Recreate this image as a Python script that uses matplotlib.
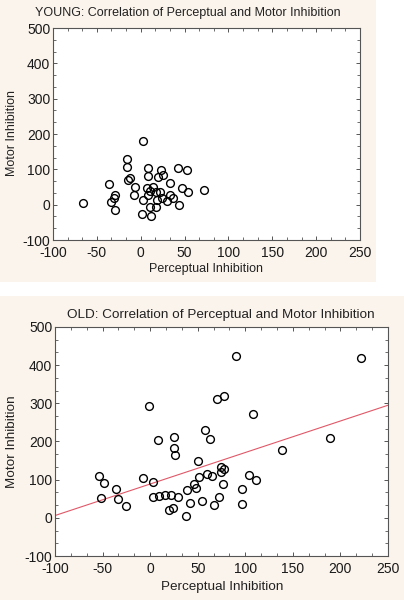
import matplotlib
matplotlib.use("Agg")
import matplotlib.pyplot as plt
from matplotlib.patches import Rectangle
from matplotlib.ticker import MultipleLocator

plt.rcParams['font.family'] = ['Liberation Sans', 'DejaVu Sans']
plt.rcParams['axes.unicode_minus'] = False

# YOUNG group
young_x = [-66, 3, -16, -16, -15, -12, -36, -6, -8, -29, -31, -34, -29,
           8, 8, 23, 25, 20, 7, 14, 17, 11, 22, 24, 19, 3, 8, 11, 17, 1, 12,
           33, 33, 37, 30, 42, 53, 47, 54, 44, 72]
young_y = [4, 179, 129, 106, 70, 75, 58, 49, 26, 28, 20, 8, -14,
           103, 82, 99, 83, 78, 46, 49, 35, 39, 36, 18, 14, 14, 26, -7, -8, -27, -33,
           60, 27, 19, 9, 105, 97, 46, 36, -2, 42]

# OLD group
old_x = [-54, -52, -48, -36, -34, -25, -8, -1, 2.5, 3, 8, 9, 15.5, 21.5, 20, 24,
         25, 24.6, 25.7, 29, 38, 39, 42, 46, 48.6, 50, 51, 55, 58, 60, 63, 65,
         67.6, 70, 78, 72.5, 74, 74.3, 77.5, 77, 90, 97, 96.5, 104, 108, 111,
         139, 189, 222]
old_y = [109, 51, 91, 76, 49, 32, 105, 294, 93, 54, 203, 58, 59, 59, 20, 27,
         211, 182, 164, 55, 3.5, 73, 38, 89, 79, 150, 108, 45, 229, 116, 207, 109,
         34, 311, 319, 54, 134, 120, 128, 89, 423, 75, 36, 111, 273, 100,
         179, 208, 419]

# fitted regression line for OLD
fit_x = [-100, 250]
fit_y = [6, 295]

xticks = [-100, -50, 0, 50, 100, 150, 200, 250]
yticks = [-100, 0, 100, 200, 300, 400, 500]

W, H = 404, 600
fig = plt.figure(figsize=(W / 100, H / 100), dpi=100)
fig.patch.set_facecolor('white')

beige = '#FBF4EC'
fig.patches.append(Rectangle((0, 1 - 282 / H), 376 / W, 282 / H, transform=fig.transFigure,
                             facecolor=beige, edgecolor='none', zorder=-10))
fig.patches.append(Rectangle((0, 0), 1, 1 - 296 / H, transform=fig.transFigure,
                             facecolor=beige, edgecolor='none', zorder=-10))


def setup(ax):
    ax.set_xlim(-100, 250)
    ax.set_ylim(-100, 500)
    ax.set_xticks(xticks)
    ax.set_yticks(yticks)
    ax.xaxis.set_minor_locator(MultipleLocator(50 / 3))
    ax.yaxis.set_minor_locator(MultipleLocator(100 / 3))
    ax.tick_params(which='both', direction='in', top=True, right=True,
                   color='#555555', labelsize=10, labelcolor='#1a1a1a')
    ax.tick_params(axis='x', pad=4)
    ax.tick_params(axis='y', pad=2)
    ax.tick_params(which='major', length=3, width=0.7)
    ax.tick_params(which='minor', length=2, width=0.6)
    for s in ax.spines.values():
        s.set_color('#555555')
        s.set_linewidth(0.8)
    ax.set_facecolor('white')


ax1 = fig.add_axes([53 / W, 1 - 240 / H, 307 / W, 212 / H])
setup(ax1)
ax1.plot(young_x, young_y, 'o', ms=5.6, mfc='none', mec='black', mew=1.0)
fig.text(188 / W, 1 - 13 / H, 'YOUNG: Correlation of Perceptual and Motor Inhibition',
         ha='center', va='center', fontsize=9.0, color='#222222')
fig.text(206 / W, 1 - 269 / H, 'Perceptual Inhibition', ha='center', va='center',
         fontsize=9.0, color='#222222')
fig.text(12 / W, 1 - 133 / H, 'Motor Inhibition', ha='center', va='center',
         rotation=90, fontsize=9.0, color='#222222')

ax2 = fig.add_axes([55 / W, 1 - 556 / H, 333 / W, 229 / H])
setup(ax2)
ax2.plot(fit_x, fit_y, '-', color='#E05868', lw=0.8)
ax2.plot(old_x, old_y, 'o', ms=5.6, mfc='none', mec='black', mew=1.0)
fig.text(221 / W, 1 - 315 / H, 'OLD: Correlation of Perceptual and Motor Inhibition',
         ha='center', va='center', fontsize=9.7, color='#222222')
fig.text(222 / W, 1 - 587 / H, 'Perceptual Inhibition', ha='center', va='center',
         fontsize=9.7, color='#222222')
fig.text(12 / W, 1 - 442 / H, 'Motor Inhibition', ha='center', va='center',
         rotation=90, fontsize=9.7, color='#222222')

fig.savefig('out.png', dpi=100, facecolor=fig.get_facecolor())
